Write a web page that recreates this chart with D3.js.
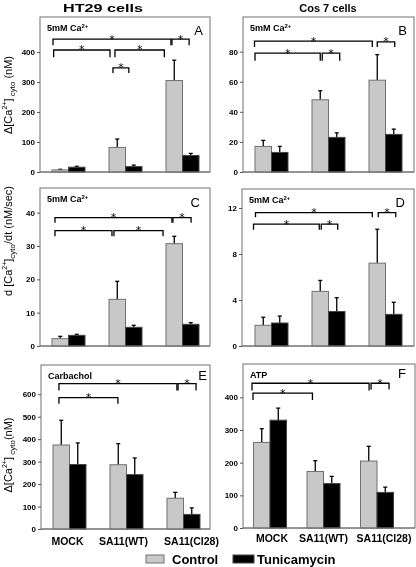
<!DOCTYPE html>
<html><head><meta charset="utf-8">
<script src="https://cdn.jsdelivr.net/npm/d3@7"></script>
<style>
body{margin:0;background:#fff}
svg{display:block;will-change:transform}
text{font-family:"Liberation Sans",Arial,Helvetica,sans-serif;fill:#000}
</style>
</head><body>
<svg id="chart" width="416" height="567"></svg>
<script>
// ---------- data ----------
const groups = ["MOCK", "SA11(WT)", "SA11(Cl28)"];
const seriesNames = ["Control", "Tunicamycin"];

// Panel A – HT29, 5mM Ca2+, Δ[Ca2+]cyto (nM)
const aControl = [7, 82, 305],  aControlErr = [2, 28, 68];
const aTunica  = [16, 18, 55],  aTunicaErr  = [3, 5, 7];
const aTicks   = [0, 100, 200, 300, 400];
// Panel B – Cos 7, 5mM Ca2+
const bControl = [17, 48, 61],  bControlErr = [4, 6, 17];
const bTunica  = [13, 23, 25],  bTunicaErr  = [4, 3, 3.5];
const bTicks   = [0, 20, 40, 60, 80];
// Panel C – HT29, rate (nM/sec)
const cControl = [2.2, 14, 30.7], cControlErr = [0.7, 5.4, 2.2];
const cTunica  = [3.2, 5.6, 6.5], cTunicaErr  = [0.3, 0.6, 0.5];
const cTicks   = [0, 10, 20, 30, 40];
// Panel D – Cos 7, rate
const dControl = [1.8, 4.75, 7.2], dControlErr = [0.7, 0.95, 2.95];
const dTunica  = [2.0, 3.0, 2.75], dTunicaErr  = [0.6, 1.2, 1.05];
const dTicks   = [0, 4, 8, 12];
// Panel E – HT29, Carbachol
const eControl = [374, 286, 137], eControlErr = [110, 94, 26];
const eTunica  = [287, 242, 65],  eTunicaErr  = [96, 74, 29];
const eTicks   = [0, 100, 200, 300, 400, 500, 600];
// Panel F – Cos 7, ATP
const fControl = [262, 173, 205], fControlErr = [42, 33, 45];
const fTunica  = [330, 136, 109], fTunicaErr  = [37, 22, 16];
const fTicks   = [0, 100, 200, 300, 400];

// significance brackets: [fromGroup, fromOffset(bar widths), toGroup, toOffset, topValue, legValue]
const aSig = [[0,-0.94,2,-0.7,443,423],[2,-0.64,2,0.4,443,423],[0,-0.9,1,-0.94,407,383],[1,-0.64,2,-1.1,407,383],[1,-0.76,1,0.2,347,330]];
const bSig = [[0,-1.03,2,-0.8,87,83],[2,-0.5,2,0.56,86.5,83],[0,-1,1,-0.5,79,74],[1,-0.38,1,0.68,79,74]];
const cSig = [[0,-0.82,2,-0.64,38.5,37],[2,-0.58,2,0.52,38.5,37],[0,-0.82,1,-0.82,34.6,32.9],[1,-0.7,2,-1.18,34.6,32.9]];
const dSig = [[0,-0.97,2,-0.8,11.6,11.2],[2,-0.44,2,0.62,11.6,11.2],[0,-1.09,1,-0.56,10.6,10.1],[1,-0.44,1,0.56,10.6,10.1]];
const eSig = [[0,-0.64,2,-0.4,647,617],[2,-0.33,2,0.76,647,617],[0,-0.64,1,-0.52,585,558]];
const fSig = [[0,-1.09,2,-0.48,443,421],[2,-0.36,2,0.73,443,424],[0,-1.03,1,-0.67,413,392]];

// ---------- layout ----------
const panels = [
  {box:[40,17,210,172],  yMax:517,  ticks:aTicks, ctl:aControl, ctlE:aControlErr, tun:aTunica, tunE:aTunicaErr, sig:aSig, letter:"A", lpos:[7,18], cond:"5mM Ca", sup:"2+", cx:[28.5,142.5]},
  {box:[243,17,414,172], yMax:103,  ticks:bTicks, ctl:bControl, ctlE:bControlErr, tun:bTunica, tunE:bTunicaErr, sig:bSig, letter:"B", lpos:[7,18], cond:"5mM Ca", sup:"2+", cx:[28.5,142.5]},
  {box:[40,188,210,346], yMax:47.4, ticks:cTicks, ctl:cControl, ctlE:cControlErr, tun:cTunica, tunE:cTunicaErr, sig:cSig, letter:"C", lpos:[10,19], cond:"5mM Ca", sup:"2+", cx:[28.5,142.5]},
  {box:[242,189,414,346],yMax:13.65,ticks:dTicks, ctl:dControl, ctlE:dControlErr, tun:dTunica, tunE:dTunicaErr, sig:dSig, letter:"D", lpos:[9,18], cond:"5mM Ca", sup:"2+", cx:[29.5,143.5]},
  {box:[41,365,210,529], yMax:730,  ticks:eTicks, ctl:eControl, ctlE:eControlErr, tun:eTunica, tunE:eTunicaErr, sig:eSig, letter:"E", lpos:[3,15], cond:"Carbachol", sup:"", cx:[28.5,142.5], xlab:16, xshift:[-2,-3,8]},
  {box:[243,364,415,528],yMax:502,  ticks:fTicks, ctl:fControl, ctlE:fControlErr, tun:fTunica, tunE:fTunicaErr, sig:fSig, letter:"F", lpos:[9,14], cond:"ATP", sup:"", cx:[27,134], xlab:14, xshift:[2,0,7]}
];
const bw = 16.5;
const ctlFill = "#c8c8c8", edge = "#707070";

const svg = d3.select("#chart");

// column titles
svg.append("text").attr("x",103).attr("y",12).attr("text-anchor","middle")
  .attr("font-size",11.5).attr("font-weight","bold").attr("textLength",80).attr("lengthAdjust","spacingAndGlyphs").text("HT29 cells");
svg.append("text").attr("x",328).attr("y",12).attr("text-anchor","middle")
  .attr("font-size",11).attr("font-weight","bold").text("Cos 7 cells");

panels.forEach(p => {
  const [x0,y0,x1,y1] = p.box;
  const g = svg.append("g");
  const x = d3.scalePoint().domain(groups).range([x0+p.cx[0], x0+p.cx[1]]);
  const y = d3.scaleLinear().domain([0,p.yMax]).range([y1,y0]);

  g.append("rect").attr("x",x0).attr("y",y0).attr("width",x1-x0).attr("height",y1-y0)
    .attr("fill","none").attr("stroke",edge).attr("stroke-width",1);

  const ax = g.append("g").attr("transform",`translate(${x0},0)`)
    .call(d3.axisLeft(y).tickValues(p.ticks).tickSize(3).tickPadding(2).tickFormat(d3.format("d")));
  ax.select(".domain").remove();
  ax.selectAll("line").attr("stroke","#555");
  ax.selectAll("text").attr("font-size",8).attr("font-weight","bold").attr("fill","#000")
    .attr("font-family","'Liberation Sans',Arial,sans-serif");

  const rows = groups.map((grp,i)=>({grp, c:p.ctl[i], ce:p.ctlE[i], t:p.tun[i], te:p.tunE[i]}));
  const eb = (cx, v, e) => {
    g.append("line").attr("x1",cx).attr("x2",cx).attr("y1",y(v)).attr("y2",y(v+e)).attr("stroke","#000").attr("stroke-width",1.3);
    g.append("line").attr("x1",cx-2).attr("x2",cx+2).attr("y1",y(v+e)).attr("y2",y(v+e)).attr("stroke","#000").attr("stroke-width",1.3);
  };
  rows.forEach(r => {
    const cx = x(r.grp);
    eb(cx-bw/2, r.c, r.ce);
    eb(cx+bw/2, r.t, r.te);
  });
  g.selectAll(".ctl").data(rows).join("rect")
    .attr("x",d=>x(d.grp)-bw).attr("y",d=>y(d.c)).attr("width",bw).attr("height",d=>y1-y(d.c))
    .attr("fill",ctlFill).attr("stroke",edge).attr("stroke-width",1);
  g.selectAll(".tun").data(rows).join("rect")
    .attr("x",d=>x(d.grp)).attr("y",d=>y(d.t)).attr("width",bw).attr("height",d=>y1-y(d.t))
    .attr("fill","#000").attr("stroke","#444").attr("stroke-width",1);
  g.append("line").attr("x1",x0).attr("x2",x1).attr("y1",y1).attr("y2",y1).attr("stroke",edge);

  p.sig.forEach(s => {
    const xa = x(groups[s[0]]) + s[1]*bw, xb = x(groups[s[2]]) + s[3]*bw;
    const yt = y(s[4]), yl = y(s[5]);
    g.append("path").attr("d",`M${xa},${yl}V${yt}H${xb}V${yl}`)
      .attr("fill","none").attr("stroke","#000").attr("stroke-width",1.3);
    g.append("text").attr("x",(xa+xb)/2).attr("y",yt+3.5).attr("text-anchor","middle")
      .attr("font-size",11).attr("fill","#000").style("font-family","'DejaVu Sans',sans-serif").text("*");
  });

  const ct = g.append("text").attr("x",x0+7).attr("y",y0+14).attr("font-size",9).attr("font-weight","bold");
  ct.append("tspan").text(p.cond);
  if (p.sup) ct.append("tspan").attr("font-size",6).attr("dy",-3).text(p.sup);
  g.append("text").attr("x",x1-p.lpos[0]).attr("y",y0+p.lpos[1]).attr("text-anchor","end").attr("font-size",13).text(p.letter);

  if (p.xlab) {
    g.selectAll(".xl").data(groups).join("text")
      .attr("x",(d,i)=>x(d)+p.xshift[i]).attr("y",y1+p.xlab).attr("text-anchor","middle")
      .attr("font-size",10.5).attr("font-weight","bold").text(d=>d);
  }
});

function yTitle(cx, cy, parts) {
  const t = svg.append("text").attr("transform",`translate(${cx},${cy}) rotate(-90)`)
    .attr("text-anchor","middle").attr("font-size",11);
  parts.forEach(([txt, kind]) => {
    const ts = t.append("tspan").text(txt);
    if (kind==="sup") ts.attr("font-size",7).attr("dy",-5);
    if (kind==="after-sup") ts.attr("dy",5);
    if (kind==="sub") ts.attr("font-size",8).attr("dy",3);
    if (kind==="after-sub") ts.attr("dy",-3);
  });
}
yTitle(12, 95, [["Δ[Ca",""],["2+","sup"],["]","after-sup"],[" cyto","sub"],[" (nM)","after-sub"]]);
yTitle(12, 241, [["d [Ca",""],["2+","sup"],["]","after-sup"],["cyto","sub"],["/dt (nM/sec)","after-sub"]]);
yTitle(12, 455, [["Δ[Ca",""],["2+","sup"],["]","after-sup"],[" cyto","sub"],["(nM)","after-sub"]]);

const leg = svg.append("g");
leg.append("rect").attr("x",146).attr("y",555).attr("width",18).attr("height",8).attr("fill",ctlFill).attr("stroke",edge);
leg.append("text").attr("x",172).attr("y",564).attr("font-size",13).attr("font-weight","bold").text(seriesNames[0]);
leg.append("rect").attr("x",233).attr("y",555).attr("width",21).attr("height",8).attr("fill","#000").attr("stroke","#444");
leg.append("text").attr("x",257).attr("y",564).attr("font-size",13).attr("font-weight","bold").text(seriesNames[1]);
</script>
</body></html>
